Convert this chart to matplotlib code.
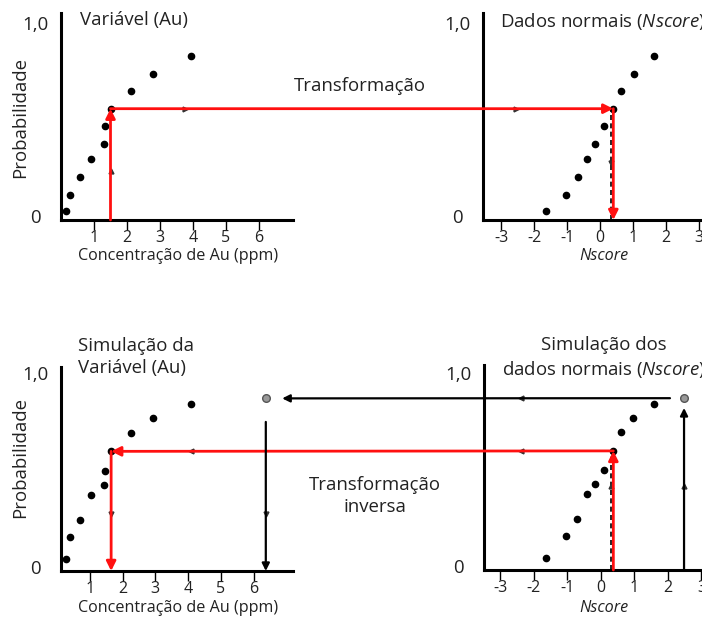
import matplotlib.pyplot as plt
from matplotlib.patches import ConnectionPatch

plt.rcParams['font.family'] = ['Open Sans', 'DejaVu Sans']
plt.rcParams['axes.unicode_minus'] = False
plt.rcParams['mathtext.fontset'] = 'custom'
plt.rcParams['mathtext.rm'] = 'Open Sans'
plt.rcParams['mathtext.it'] = 'Open Sans:italic'

# original data: Au grade (ppm), cumulative probability and normal score
au_orig = [0.14, 0.27, 0.58, 0.91, 1.30, 1.33, 1.50, 2.12, 2.79, 3.94]
p_orig = [0.046, 0.13, 0.22, 0.31, 0.39, 0.48, 0.57, 0.66, 0.75, 0.84]
ns_orig = [-1.65, -1.04, -0.68, -0.39, -0.14, 0.11, 0.40, 0.64, 1.03, 1.64]

# simulated values (back-transformed)
au_sim = [0.27, 0.40, 0.70, 1.04, 1.44, 1.47, 1.65, 2.25, 2.94, 4.08]
p_sim = [0.06, 0.175, 0.26, 0.39, 0.44, 0.51, 0.61, 0.705, 0.78, 0.85]
ns_sim = [-1.65, -1.05, -0.70, -0.42, -0.17, 0.08, 0.37, 0.60, 0.96, 1.58]

# extra simulated value outside the data range
new_au, new_ns, new_p = 6.37, 2.48, 0.88

hl = 6  # highlighted sample
au_ticks = [1, 2, 3, 4, 5, 6]
ns_ticks = [-3, -2, -1, 0, 1, 2, 3]

W, H = 702, 621
fig = plt.figure(figsize=(W / 100, H / 100), dpi=100)
FS = 13.4
FS_LAB = 11.6
RED = '#ff1010'
TXT = '#222222'


def add_ax(left, top, right, bottom):
    return fig.add_axes([left / W, 1 - bottom / H, (right - left) / W, (bottom - top) / H])


def ftext(x, y, s, size=FS, **kw):
    fig.text(x / W, 1 - y / H, s, fontsize=size, color=TXT, **kw)


def style(ax, ticks):
    for side in ('top', 'right'):
        ax.spines[side].set_visible(False)
    for side in ('left', 'bottom'):
        ax.spines[side].set_linewidth(2.2)
    ax.set_xticks(ticks)
    ax.set_xticklabels([str(t) for t in ticks], fontsize=11.5, color=TXT)
    ax.tick_params(axis='x', length=7, width=1, pad=0)
    ax.set_yticks([])
    ax.annotate('1,0', xy=(0, 1.0), xycoords=('axes fraction', 'data'), xytext=(-12, 0),
                textcoords='offset pixels', ha='right', va='center', fontsize=FS, color=TXT)
    ax.annotate('0', xy=(0, 0.0), xycoords=('axes fraction', 'data'), xytext=(-20, 2),
                textcoords='offset pixels', ha='right', va='center', fontsize=FS, color=TXT)


ax_au = add_ax(61, 13, 293, 220)
ax_au.set_xlim(0, 7.03)
ax_au.set_ylim(0, 1.06)
ax_ns = add_ax(483, 13, 740, 220)
ax_ns.set_xlim(-3.55, 4.24)
ax_ns.set_ylim(0, 1.06)
ax_au2 = add_ax(61, 367, 293, 571)
ax_au2.set_xlim(0.12, 7.2)
ax_au2.set_ylim(0, 1.04)
ax_ns2 = add_ax(484, 365, 740, 570)
ax_ns2.set_xlim(-3.49, 4.15)
ax_ns2.set_ylim(0, 1.05)

style(ax_au, au_ticks)
style(ax_ns, ns_ticks)
style(ax_au2, au_ticks)
style(ax_ns2, ns_ticks)

ax_au.plot(au_orig, p_orig, 'o', color='black', ms=4.5)
ax_ns.plot(ns_orig, p_orig, 'o', color='black', ms=4.5)
ax_au2.plot(au_sim, p_sim, 'o', color='black', ms=4.5)
ax_ns2.plot(ns_sim, p_sim, 'o', color='black', ms=4.5)
for ax, x in ((ax_au2, new_au), (ax_ns2, new_ns)):
    ax.plot([x], [new_p], 'o', mfc='#999999', mec='#555555', ms=5.5, mew=1)


def arrow(ax_a, xy_a, ax_b, xy_b, color, lw=2.0, ms=14):
    con = ConnectionPatch(xyA=xy_a, coordsA=ax_a.transData, xyB=xy_b, coordsB=ax_b.transData,
                          arrowstyle='-|>', color=color, lw=lw, mutation_scale=ms,
                          shrinkA=0, shrinkB=0, zorder=5)
    fig.add_artist(con)


# forward transform: Au -> probability -> normal score
x0, y0, n0 = au_orig[hl], p_orig[hl], ns_orig[hl]
arrow(ax_au, (x0, 0), ax_au, (x0, y0), RED)
arrow(ax_au, (x0, y0), ax_ns, (n0, y0), RED)
ax_ns.plot([n0 - 0.06, n0 - 0.06], [0, y0], '--', color='black', lw=1.2, dashes=(3, 2))
arrow(ax_ns, (n0, y0), ax_ns, (n0, 0), RED)

# back transform: normal score -> probability -> Au
x1, y1, n1 = au_sim[hl], p_sim[hl], ns_sim[hl]
ax_ns2.plot([n1 - 0.06, n1 - 0.06], [0, y1], '--', color='black', lw=1.2, dashes=(3, 2))
arrow(ax_ns2, (n1, 0), ax_ns2, (n1, y1), RED)
arrow(ax_ns2, (n1, y1), ax_au2, (x1, y1), RED)
arrow(ax_au2, (x1, y1), ax_au2, (x1, 0), RED)

# new simulated value beyond the maximum
arrow(ax_ns2, (new_ns, 0), ax_ns2, (new_ns, new_p - 0.05), 'black', lw=1.6, ms=11)
arrow(ax_ns2, (new_ns - 0.42, new_p), ax_au2, (new_au + 0.5, new_p), 'black', lw=1.6, ms=11)
arrow(ax_au2, (new_au, new_p - 0.12), ax_au2, (new_au, 0), 'black', lw=1.6, ms=11)

# faint mid-line arrow marks
mk = dict(color='#333333', ms=3.5, ls='none')
ax_au.plot([x0], [0.25], '^', **mk)
ax_au.plot([3.75], [y0], '>', **mk)
ax_ns.plot([-2.55], [y0], '>', **mk)
ax_ns.plot([n0 - 0.06], [0.29], 'v', **mk)
ax_au2.plot([x1], [0.29], 'v', **mk)
ax_au2.plot([4.1], [y1], '<', **mk)
ax_au2.plot([new_au], [0.29], 'v', **mk)
ax_ns2.plot([-2.4], [new_p], '<', **mk)
ax_ns2.plot([-2.4], [y1], '<', **mk)
ax_ns2.plot([n1 - 0.06], [0.43], '^', **mk)
ax_ns2.plot([new_ns], [0.43], '^', **mk)

# labels
ftext(80, 20, 'Variável (Au)', ha='left', va='center')
ftext(500, 22, 'Dados normais ($\\mathit{Nscore}$)', ha='left', va='center')
ftext(360, 86, 'Transformação', ha='center', va='center')
ftext(78, 357, 'Simulação da\nVariável (Au)', ha='left', va='center', linespacing=1.3)
ftext(604, 358, 'Simulação dos\ndados normais ($\\mathit{Nscore}$)', ha='center', va='center',
      multialignment='center', linespacing=1.3)
ftext(375, 496, 'Transformação\ninversa', ha='center', va='center', multialignment='center',
      linespacing=1.25)
for y in (118, 458):
    ftext(20, y, 'Probabilidade', ha='center', va='center', rotation=90)
for y in (256, 608):
    ftext(178, y, 'Concentração de Au (ppm)', size=FS_LAB, ha='center', va='center')
    ftext(604, y, 'Nscore', size=FS_LAB, ha='center', va='center', style='italic')

fig.savefig('out.png', dpi=100)
